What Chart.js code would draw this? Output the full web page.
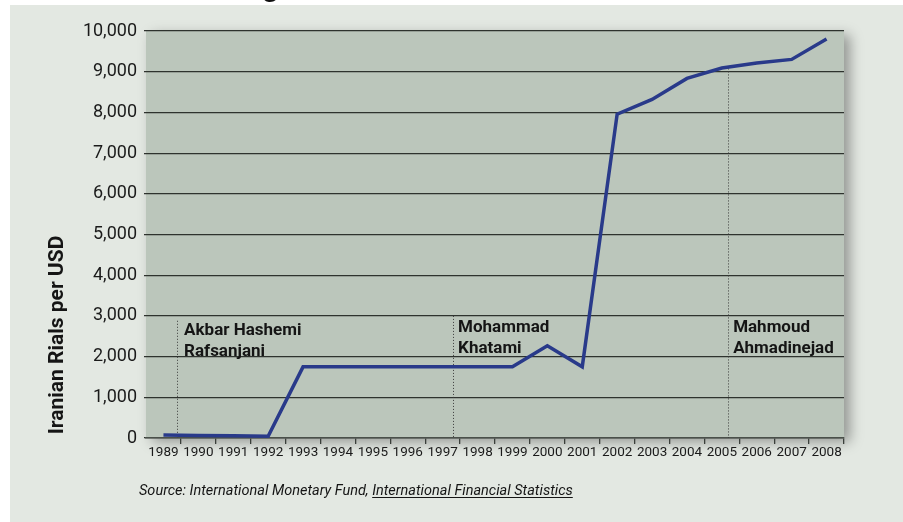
<!DOCTYPE html>
<html>
<head>
<meta charset="utf-8">
<script src="https://cdn.jsdelivr.net/npm/chart.js@4.4.1/dist/chart.umd.min.js"></script>
<style>
html, body { margin: 0; padding: 0; background: #fff; }
</style>
</head>
<body>
<canvas id="myChart" width="903" height="522"></canvas>
<script>
// exchange rate, rials per US dollar
var years = ['1989', '1990', '1991', '1992', '1993', '1994', '1995', '1996', '1997', '1998',
             '1999', '2000', '2001', '2002', '2003', '2004', '2005', '2006', '2007', '2008'];
var rialsPerUsd = [72, 62, 54, 45, 1748, 1748, 1748, 1748, 1748, 1748,
                   1748, 2265, 1750, 7958, 8320, 8835, 9090, 9213, 9302, 9803];

// presidents and when their term starts (fractional year)
var presidentNames = [['Akbar Hashemi', 'Rafsanjani'], ['Mohammad', 'Khatami'], ['Mahmoud', 'Ahmadinejad']];
var termStart = [1989.39, 1997.30, 2005.18];
var markerTop = [2880, 3000, 9080];

var panel = {
    id: 'panel',
    beforeDraw: function (chart) {
        var ctx = chart.ctx, a = chart.chartArea;
        ctx.save();
        ctx.fillStyle = '#ffffff';
        ctx.fillRect(0, 0, chart.width, chart.height);
        // bit of the cut off title
        ctx.fillStyle = '#111';
        ctx.font = 'bold 30px Roboto';
        ctx.fillText('g', 262, -4);
        ctx.fillStyle = '#e3e8e2';
        ctx.fillRect(10, 5, chart.width - 10, chart.height - 5);
        ctx.shadowColor = 'rgba(0,0,0,0.35)';
        ctx.shadowBlur = 12;
        ctx.shadowOffsetX = 6;
        ctx.shadowOffsetY = 4;
        ctx.fillStyle = '#bbc6bb';
        ctx.fillRect(a.left, a.top, a.right - a.left, a.bottom - a.top);
        ctx.restore();
    },
    beforeDatasetsDraw: function (chart) {
        var ctx = chart.ctx, x = chart.scales.x, y = chart.scales.y;
        ctx.save();
        ctx.strokeStyle = '#3a3a3a';
        ctx.lineWidth = 1;
        ctx.setLineDash([1, 2]);
        for (var i = 0; i < termStart.length; i++) {
            var px = Math.round(x.getPixelForValue(termStart[i] - 1989)) + 0.5;
            ctx.beginPath();
            ctx.moveTo(px, y.getPixelForValue(markerTop[i]));
            ctx.lineTo(px, y.getPixelForValue(0));
            ctx.stroke();
        }
        ctx.restore();
    },
    afterDatasetsDraw: function (chart) {
        var ctx = chart.ctx, x = chart.scales.x;
        ctx.save();
        ctx.fillStyle = '#151515';
        ctx.font = 'bold 17px Roboto';
        var base = [335, 332, 332];
        var dx = [7, 5, 5];
        for (var i = 0; i < presidentNames.length; i++) {
            var px = x.getPixelForValue(termStart[i] - 1989) + dx[i];
            ctx.fillText(presidentNames[i][0], px, base[i]);
            ctx.fillText(presidentNames[i][1], px, base[i] + 21);
        }

        // axis title
        ctx.save();
        ctx.translate(58, 335);
        ctx.rotate(-Math.PI / 2);
        ctx.textAlign = 'center';
        ctx.textBaseline = 'middle';
        ctx.font = 'bold 21px Roboto';
        ctx.fillText('Iranian Rials per USD', 0, 0);
        ctx.restore();

        // source line
        ctx.font = 'italic 14.5px Roboto';
        var s1 = 'Source: International Monetary Fund, ';
        var s2 = 'International Financial Statistics';
        ctx.fillText(s1, 139, 495);
        var w1 = ctx.measureText(s1).width;
        ctx.fillText(s2, 139 + w1, 495);
        var w2 = ctx.measureText(s2).width;
        ctx.fillRect(139 + w1, 497, w2, 1);
        ctx.restore();
    }
};

var testChart = new Chart('myChart', {
    type: 'line',
    data: {
        labels: years,
        datasets: [{
            data: rialsPerUsd,
            borderColor: '#293a8a',
            borderWidth: 3.5,
            pointRadius: 0,
            tension: 0,
            fill: false
        }]
    },
    options: {
        responsive: false,
        animation: false,
        layout: {
            padding: { top: 31, right: 59, left: 0, bottom: 0 }
        },
        plugins: {
            legend: { display: false },
            tooltip: { enabled: false }
        },
        scales: {
            x: {
                offset: true,
                afterFit: function (s) { s.height = 84; },
                grid: {
                    offset: true,
                    drawOnChartArea: false,
                    tickLength: 6,
                    lineWidth: 1.3,
                    color: function (c) { return c.index === 0 ? 'rgba(0,0,0,0)' : '#3a3f3a'; }
                },
                border: { color: '#4a504a', width: 1.5 },
                ticks: {
                    color: '#1a1a1a',
                    font: { family: 'Roboto', size: 13.5 },
                    padding: 1,
                    maxRotation: 0,
                    autoSkip: false
                }
            },
            y: {
                min: 0,
                max: 10000,
                afterFit: function (s) { s.width = 146; },
                grid: {
                    color: '#2e332e',
                    lineWidth: 1.2,
                    tickLength: 2
                },
                border: { display: false },
                ticks: {
                    stepSize: 1000,
                    color: '#1a1a1a',
                    font: { family: 'Roboto', size: 18 },
                    padding: 7,
                    callback: function (v) { return v.toLocaleString('en-US'); }
                }
            }
        }
    },
    plugins: [panel]
});
</script>
</body>
</html>
